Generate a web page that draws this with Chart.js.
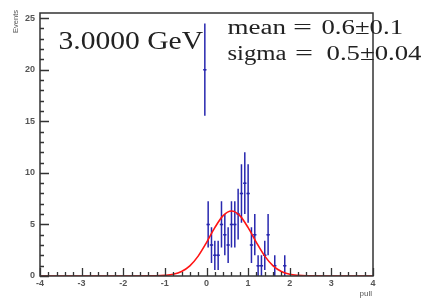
<!DOCTYPE html>
<html>
<head>
<meta charset="utf-8">
<script src="https://cdn.jsdelivr.net/npm/chart.js@4/dist/chart.umd.min.js"></script>
<style>
html,body{margin:0;padding:0;background:#fff;}
canvas{display:block;}
</style>
</head>
<body>
<canvas id="c" width="428" height="299"></canvas>
<script>
// ---- data ----
const binCenters = [-0.04, 0.04, 0.12, 0.20, 0.28, 0.36, 0.44, 0.52, 0.60, 0.68, 0.76, 0.84, 0.92, 1.00, 1.08, 1.16, 1.24, 1.32, 1.40, 1.48, 1.64, 1.88];
const counts     = [20, 5, 3, 2, 2, 5, 4, 3, 5, 5, 6, 8, 9, 8, 3, 4, 1, 1, 2, 4, 1, 1];
const binHalfWidth = 0.04;

const fitX = [-4, -2, -1.2, -1.0, -0.8, -0.6, -0.4, -0.2, 0.0, 0.2, 0.4, 0.6, 0.8, 1.0, 1.2, 1.4, 1.6, 1.8, 2.0, 2.2, 2.4, 3, 4];
const fitY = [0, 0, 0.01, 0.06, 0.17, 0.44, 0.99, 1.93, 3.24, 4.69, 5.85, 6.3, 5.85, 4.69, 3.24, 1.93, 0.99, 0.44, 0.17, 0.06, 0.01, 0, 0];

const xTicks = [-4, -3, -2, -1, 0, 1, 2, 3, 4];
const yTicks = [0, 5, 10, 15, 20, 25];
const xMinorStep = 0.2;
const yMinorStep = 1;

const energyLabel = "3.0000 GeV";
const meanLabel = ["mean", "=", "0.6\u00B10.1"];
const sigmaLabel = ["sigma", "=", "0.5\u00B10.04"];
const xTitle = "pull";
const yTitle = "Events";

const BLUE = "rgb(40,40,175)";
const RED = "rgb(255,20,20)";
const FRAME = "#333";
const LABEL = "#555";

function fitText(ctx, txt, x0, x1, y, font) {
  ctx.save();
  ctx.font = font;
  const w = ctx.measureText(txt).width;
  const s = (x1 - x0) / w;
  ctx.translate(x0, y);
  ctx.scale(s, 1);
  ctx.textAlign = "left";
  ctx.textBaseline = "alphabetic";
  ctx.fillText(txt, 0, 0);
  ctx.restore();
}

const errPlugin = {
  id: "errbars",
  beforeDatasetsDraw(chart) {
    const ctx = chart.ctx, xs = chart.scales.x, ys = chart.scales.y;
    ctx.save();
    ctx.strokeStyle = BLUE;
    ctx.lineWidth = 1.5;
    ctx.lineCap = "butt";
    binCenters.forEach((c, i) => {
      const n = counts[i];
      const e = Math.sqrt(n);
      const px = xs.getPixelForValue(c);
      const py = ys.getPixelForValue(n);
      const lo = ys.getPixelForValue(Math.max(0, n - e));
      const hi = ys.getPixelForValue(n + e);
      ctx.beginPath();
      ctx.moveTo(px, lo); ctx.lineTo(px, hi);
      ctx.moveTo(xs.getPixelForValue(c - binHalfWidth), py);
      ctx.lineTo(xs.getPixelForValue(c + binHalfWidth), py);
      ctx.stroke();
    });
    ctx.restore();
  }
};

const framePlugin = {
  id: "frame",
  afterDraw(chart) {
    const ctx = chart.ctx, a = chart.chartArea, xs = chart.scales.x, ys = chart.scales.y;
    ctx.save();
    ctx.strokeStyle = FRAME;
    ctx.lineWidth = 1.5;
    ctx.strokeRect(a.left, a.top, a.right - a.left, a.bottom - a.top);
    // x ticks
    ctx.lineWidth = 1.3;
    ctx.beginPath();
    for (let v = xTicks[0]; v <= xTicks[xTicks.length - 1] + 1e-9; v += xMinorStep) {
      const major = Math.abs(v - Math.round(v)) < 1e-6;
      const px = Math.round(xs.getPixelForValue(v)) + 0.5;
      ctx.moveTo(px, a.bottom);
      ctx.lineTo(px, a.bottom - (major ? 8 : 4));
    }
    for (let v = yTicks[0]; v <= yTicks[yTicks.length - 1] + 1e-9; v += yMinorStep) {
      const major = Math.abs(v / 5 - Math.round(v / 5)) < 1e-6;
      const py = Math.round(ys.getPixelForValue(v)) + 0.5;
      ctx.moveTo(a.left, py);
      ctx.lineTo(a.left + (major ? 9 : 4), py);
    }
    ctx.stroke();
    // tick labels
    ctx.fillStyle = LABEL;
    ctx.font = "bold 9px 'Liberation Sans', Arial, sans-serif";
    ctx.textAlign = "center";
    ctx.textBaseline = "middle";
    xTicks.forEach(v => ctx.fillText(String(v), xs.getPixelForValue(v), a.bottom + 8));
    ctx.textAlign = "right";
    yTicks.forEach(v => ctx.fillText(String(v), a.left - 5, ys.getPixelForValue(v)));
    // axis titles
    ctx.font = "8px 'Liberation Sans', Arial, sans-serif";
    ctx.textAlign = "right";
    ctx.fillText(xTitle, a.right - 1, a.bottom + 18);
    ctx.save();
    ctx.translate(16, 10);
    ctx.rotate(-Math.PI / 2);
    ctx.textAlign = "right";
    ctx.textBaseline = "middle";
    ctx.font = "7.5px 'Liberation Sans', Arial, sans-serif";
    ctx.fillText(yTitle, 0, 0);
    ctx.restore();
    // annotations
    ctx.fillStyle = "#222";
    fitText(ctx, energyLabel, 58.5, 203, 48.5, "25px 'Liberation Serif', serif");
    const f2 = "20px 'Liberation Serif', serif";
    fitText(ctx, meanLabel[0], 227.5, 286, 33.5, f2);
    fitText(ctx, meanLabel[1], 293, 312, 33.5, f2);
    fitText(ctx, meanLabel[2], 321.5, 403, 33.5, f2);
    fitText(ctx, sigmaLabel[0], 227.5, 286.5, 60, f2);
    fitText(ctx, sigmaLabel[1], 295, 313, 60, f2);
    fitText(ctx, sigmaLabel[2], 326.5, 421.5, 60, f2);
    ctx.restore();
  }
};

new Chart(document.getElementById("c"), {
  type: "scatter",
  data: {
    datasets: [
      {
        type: "line",
        data: fitX.map((x, i) => ({ x: x, y: fitY[i] })),
        borderColor: RED,
        borderWidth: 1.6,
        pointRadius: 0,
        tension: 0.4,
        cubicInterpolationMode: "monotone",
        fill: false,
        order: 0
      },
      {
        type: "scatter",
        data: binCenters.map((x, i) => ({ x: x, y: counts[i] })),
        pointStyle: "rect",
        pointRadius: 1.1,
        backgroundColor: BLUE,
        borderWidth: 0,
        order: 1
      }
    ]
  },
  options: {
    responsive: false,
    animation: false,
    devicePixelRatio: 1,
    layout: { padding: { left: 40, right: 55, top: 13, bottom: 23 } },
    plugins: { legend: { display: false }, tooltip: { enabled: false } },
    scales: {
      x: { type: "linear", min: -4, max: 4, display: false },
      y: { type: "linear", min: 0, max: 25.5, display: false }
    }
  },
  plugins: [errPlugin, framePlugin]
});
</script>
</body>
</html>
